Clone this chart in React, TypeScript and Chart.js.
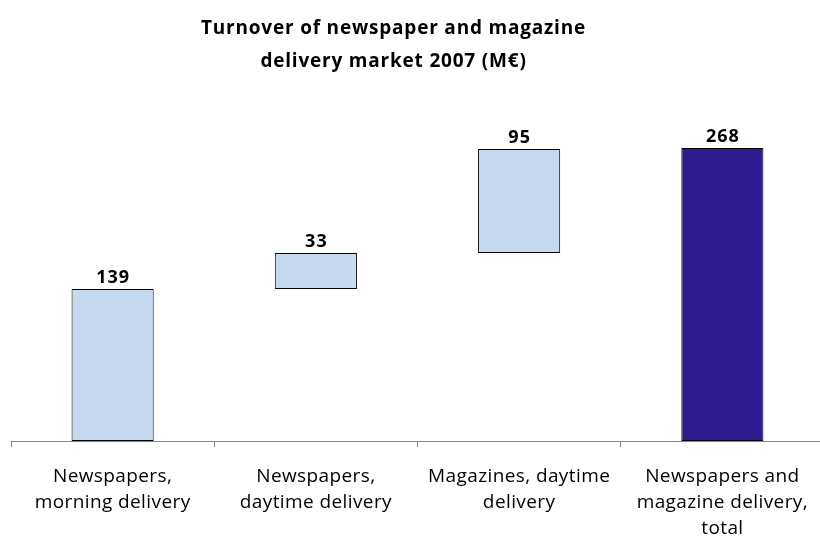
import React, { useEffect, useRef } from "react";
import { Chart, registerables } from "chart.js";

Chart.register(...registerables);

const titleLines = ["Turnover of newspaper and magazine", "delivery market 2007 (M€)"];
const categories = [
  ["Newspapers,", "morning delivery"],
  ["Newspapers,", "daytime delivery"],
  ["Magazines, daytime", "delivery"],
  ["Newspapers and", "magazine delivery,", "total"],
];
const increments = [139, 33, 95];
const total = 268;
const valueLabels = ["139", "33", "95", "268"];
const barColors = ["#C6D9F1", "#C6D9F1", "#C6D9F1", "#2F1A92"];

function buildRanges(): [number, number][] {
  let running = 0;
  const out: [number, number][] = increments.map((v) => {
    const r: [number, number] = [running, running + v];
    running += v;
    return r;
  });
  out.push([0, total]);
  return out;
}

const spacingPlugin = {
  id: "spacing",
  beforeDraw(chart: any) {
    chart.ctx.letterSpacing = "0.4px";
  },
};

const valueLabelPlugin = {
  id: "valueLabels",
  afterDatasetsDraw(chart: any) {
    const ctx = chart.ctx;
    const meta = chart.getDatasetMeta(0);
    ctx.save();
    ctx.letterSpacing = "1px";
    ctx.font = "bold 18px 'Open Sans'";
    ctx.fillStyle = "#000";
    ctx.textAlign = "center";
    ctx.textBaseline = "alphabetic";
    meta.data.forEach((el: any, i: number) => {
      ctx.fillText(valueLabels[i], el.x + 0.5, el.y - 6);
    });
    ctx.restore();
  },
};

const titlePlugin = {
  id: "customTitle",
  afterDraw(chart: any) {
    const ctx = chart.ctx;
    const ca = chart.chartArea;
    const cx = (ca.left + ca.right) / 2 - 24;
    ctx.save();
    ctx.letterSpacing = "0.8px";
    ctx.font = "bold 19px 'Open Sans'";
    ctx.fillStyle = "#000";
    ctx.textAlign = "center";
    ctx.textBaseline = "alphabetic";
    titleLines.forEach((t, i) => ctx.fillText(t, cx, 33.5 + i * 33.5));
    ctx.restore();
  },
};

export default function App() {
  const ref = useRef<HTMLCanvasElement | null>(null);
  useEffect(() => {
    document.body.style.margin = "0";
    if (!ref.current) return;
    const chart = new Chart(ref.current, {
      type: "bar",
      data: {
        labels: categories,
        datasets: [
          {
            data: buildRanges() as any,
            backgroundColor: barColors,
            borderColor: "#000",
            borderWidth: 1,
            borderSkipped: false,
            categoryPercentage: 1,
            barPercentage: 0.404,
          },
        ],
      },
      options: {
        responsive: false,
        animation: false,
        devicePixelRatio: 1,
        layout: { padding: { left: 11, right: 6, top: 113, bottom: 0 } },
        plugins: { legend: { display: false }, tooltip: { enabled: false }, title: { display: false } },
        scales: {
          x: {
            grid: { display: true, drawOnChartArea: false, drawTicks: true, tickLength: 6, color: "#868686", offset: true },
            border: { display: true, color: "#868686", width: 1 },
            ticks: {
              color: "#000",
              font: { family: "'Open Sans'", size: 19, lineHeight: 1.37 },
              padding: 17,
              maxRotation: 0,
              autoSkip: false,
            },
            afterFit: (s: any) => {
              s.height = 101;
            },
          },
          y: { display: false, min: 0, max: 300 },
        },
      },
      plugins: [spacingPlugin, valueLabelPlugin, titlePlugin],
    });
    return () => chart.destroy();
  }, []);
  return (
    <div style={{ width: 820, height: 542, overflow: "hidden", position: "relative" }}>
      <canvas ref={ref} width={830} height={542} style={{ display: "block", width: 830, height: 542 }} />
    </div>
  );
}
